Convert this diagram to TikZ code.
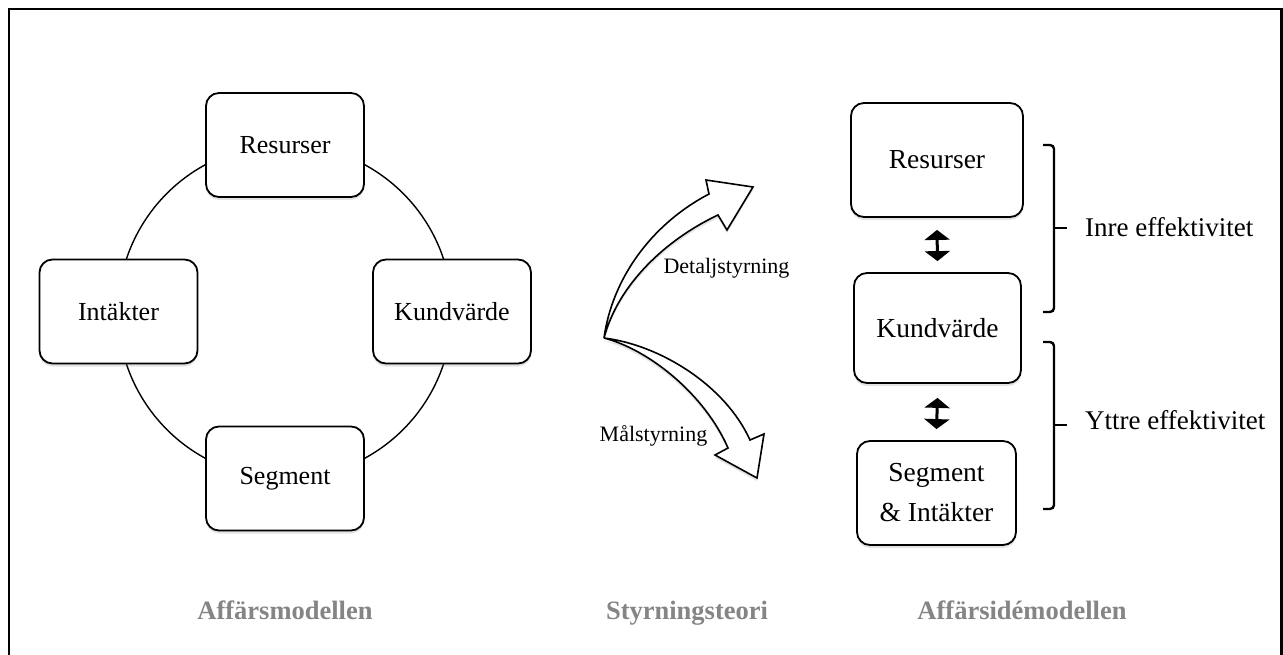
\documentclass[tikz,border=0pt]{standalone}
\usepackage{fontspec}
\setmainfont{Liberation Serif}
\usetikzlibrary{arrows.meta,shadows,calc}
\definecolor{capgray}{HTML}{858585}
\begin{document}
\begin{tikzpicture}[x=1pt,y=-1pt,
  shad/.style={drop shadow={shadow xshift=0pt,shadow yshift=-3pt,opacity=0.22}},
  lbox/.style={draw=black, line width=1.8pt, rounded corners=13pt, fill=white,
    minimum width=158pt, minimum height=104pt, inner sep=0pt,
    font=\fontsize{26}{30}\selectfont, shad},
  rbox/.style={draw=black, line width=1.8pt, rounded corners=13pt, fill=white,
    inner sep=0pt, align=center, font=\fontsize{27.5}{40}\selectfont, shad},
  dbl/.style={line width=3pt, {Triangle[width=25pt,length=10pt]}-{Triangle[width=25pt,length=10pt]}},
  brack/.style={line width=2.4pt, rounded corners=4pt},
  bigarrow/.style={draw=black, fill=white, line width=1.6pt, line join=miter, shad},
  midlbl/.style={font=\fontsize{22}{26}\selectfont, inner sep=0pt},
  efflbl/.style={font=\fontsize{27}{32}\selectfont, inner sep=0pt, anchor=west},
  caption/.style={font=\fontsize{26.5}{30}\selectfont\bfseries, text=capgray, inner sep=0pt, anchor=base}]

\useasboundingbox (0,0) rectangle (1283,655);
\fill[white] (0,0) rectangle (1283,655);

% frame
\draw[line width=2pt] (9,660) -- (9,9) -- (1281,9);
\draw[line width=3pt] (1281,8) -- (1281,660);

% ---- left: Affärsmodellen ----
\coordinate (cc) at (285,311.5);
\draw[line width=1.4pt] (cc) circle[radius=167pt];
\node[lbox] (lres) at (285,145) {Resurser};
\node[lbox] (lint) at (118.5,311.5) {Intäkter};
\node[lbox] (lkund) at (452,311.5) {Kundvärde};
\node[lbox] (lseg) at (285,478.5) {Segment};
\node[caption] (cap1) at (285,619) {Affärsmodellen};

% ---- middle: Styrningsteori ----
\coordinate (t) at (604,338);
\draw[bigarrow] (t) .. controls (612,280) and (650,225) .. (709,194)
  -- (706,180) -- (753,187) -- (727,230) -- (718,215)
  .. controls (665,240) and (618,285) .. (t) -- cycle;
\draw[bigarrow] (t) .. controls (660,345) and (725,385) .. (750,440)
  -- (764,434) -- (757,478) -- (715,455) -- (728,448)
  .. controls (705,395) and (650,350) .. (t) -- cycle;
\node[midlbl] (detalj) at (726.5,268) {Detaljstyrning};
\node[midlbl] (mal) at (653.5,436) {Målstyrning};
\node[caption] (cap2) at (687,619) {Styrningsteori};

% ---- right: Affärsidémodellen ----
\node[rbox, minimum width=172pt, minimum height=114pt] (rres) at (937,160) {Resurser};
\node[rbox, minimum width=167pt, minimum height=110pt] (rkund) at (937.5,328) {Kundvärde};
\node[rbox, minimum width=159pt, minimum height=104pt] (rseg) at (936.5,493) {Segment\\\& Intäkter};
\draw[dbl] ([yshift=-12pt]rres.south) -- ([yshift=11pt]rkund.north);
\draw[dbl] ([yshift=-14pt]rkund.south) -- ([yshift=11pt]rseg.north);

\draw[brack] (1043,145) -- (1054,145) -- (1054,312) -- (1043,312);
\coordinate (b1) at (1067,228);
\draw[brack] (1054,228) -- (b1);
\draw[brack] (1043,342) -- (1054,342) -- (1054,509) -- (1043,509);
\coordinate (b2) at (1067,425);
\draw[brack] (1054,425) -- (b2);
\node[efflbl] (inre) at ($(b1)+(18,-1)$) {Inre effektivitet};
\node[efflbl] (yttre) at ($(b2)+(18,-5)$) {Yttre effektivitet};
\node[caption] (cap3) at (1022,619) {Affärsidémodellen};
\end{tikzpicture}
\end{document}
